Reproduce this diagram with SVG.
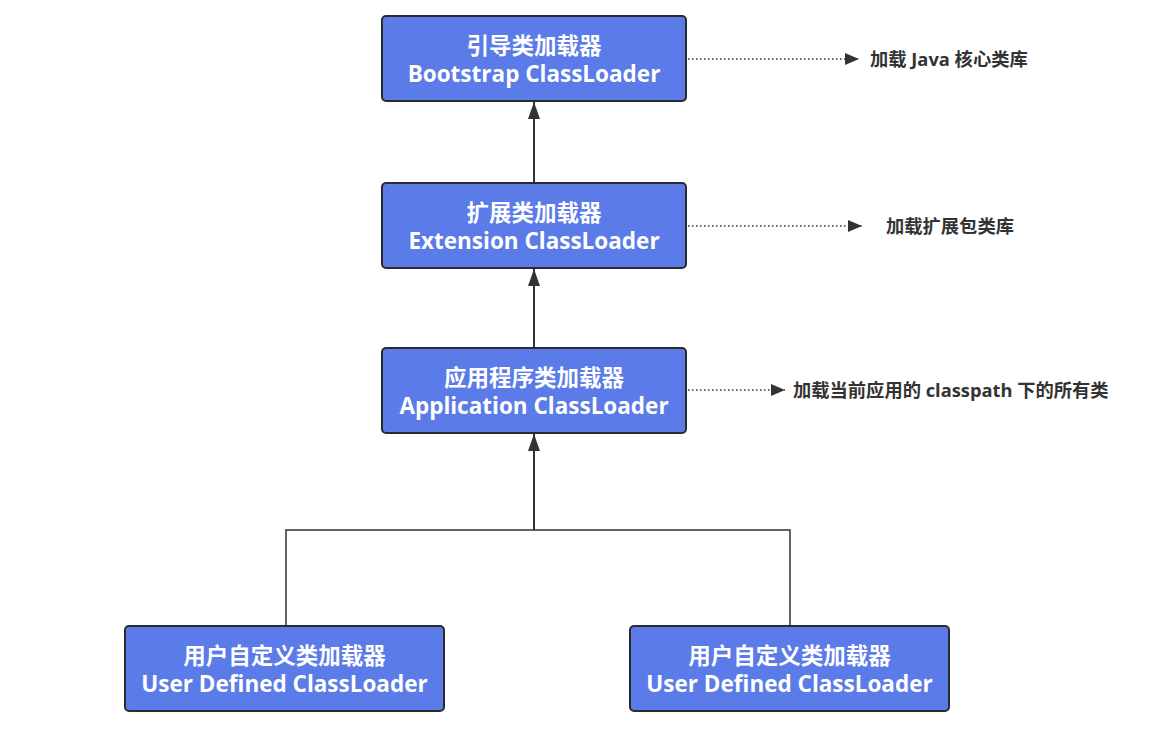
<svg xmlns="http://www.w3.org/2000/svg" width="1169" height="742" viewBox="0 0 1169 742">
<style>
.box{fill:#5B7BE8;stroke:#2b2b2b;stroke-width:2}
.t{font-family:"Open Sans","Noto Sans CJK SC",sans-serif;font-weight:bold;font-size:22.5px;fill:#fff;text-anchor:middle}
.lbl{font-family:"Open Sans","Noto Sans CJK SC",sans-serif;font-weight:bold;font-size:18.3px;fill:#333}
.solid{stroke:#333;stroke-width:2;fill:none}
.thin{stroke:#333;stroke-width:1.5;fill:none}
.dot{stroke:#333;stroke-width:1.5;fill:none;stroke-dasharray:1.5 2.5}
</style>
<defs>
<marker id="ah" markerWidth="17" markerHeight="12" refX="17" refY="6" orient="auto" markerUnits="userSpaceOnUse" viewBox="0 0 17 12"><path d="M0,0 L17,6 L0,12 Z" fill="#333"/></marker>
<marker id="ahs" markerWidth="14" markerHeight="12" refX="14" refY="6" orient="auto" markerUnits="userSpaceOnUse" viewBox="0 0 14 12"><path d="M0,0 L14,6 L0,12 Z" fill="#333"/></marker>
</defs>
<g id="connectors">
<line class="solid" x1="534" y1="183" x2="534" y2="102" marker-end="url(#ah)"/>
<line class="solid" x1="534" y1="348" x2="534" y2="269" marker-end="url(#ah)"/>
<line class="solid" x1="534" y1="530" x2="534" y2="434" marker-end="url(#ah)"/>
<polyline class="thin" points="286,626 286,530 790,530 790,626"/>
<line class="dot" x1="688" y1="59" x2="859" y2="59" marker-end="url(#ahs)"/>
<line class="dot" x1="688" y1="226" x2="862" y2="226" marker-end="url(#ahs)"/>
<line class="dot" x1="688" y1="390" x2="785" y2="390" marker-end="url(#ahs)"/>
</g>
<g id="bootstrap">
<rect class="box" x="382" y="16" width="304" height="85" rx="4"/>
<text class="t" x="534" y="54">引导类加载器</text>
<text class="t" x="534" y="82">Bootstrap ClassLoader</text>
</g>
<g id="extension">
<rect class="box" x="382" y="183" width="304" height="85" rx="4"/>
<text class="t" x="534" y="221">扩展类加载器</text>
<text class="t" x="534" y="249">Extension ClassLoader</text>
</g>
<g id="application">
<rect class="box" x="382" y="348" width="304" height="85" rx="4"/>
<text class="t" x="534" y="386">应用程序类加载器</text>
<text class="t" x="534" y="414">Application ClassLoader</text>
</g>
<g id="user1">
<rect class="box" x="125" y="626" width="319" height="85" rx="4"/>
<text class="t" x="284.5" y="664">用户自定义类加载器</text>
<text class="t" x="284.5" y="692">User Defined ClassLoader</text>
</g>
<g id="user2">
<rect class="box" x="630" y="626" width="319" height="85" rx="4"/>
<text class="t" x="789.5" y="664">用户自定义类加载器</text>
<text class="t" x="789.5" y="692">User Defined ClassLoader</text>
</g>
<g id="labels">
<text class="lbl" x="870" y="66">加载 Java 核心类库</text>
<text class="lbl" x="886" y="233">加载扩展包类库</text>
<text class="lbl" x="793" y="397">加载当前应用的 classpath 下的所有类</text>
</g>
</svg>
